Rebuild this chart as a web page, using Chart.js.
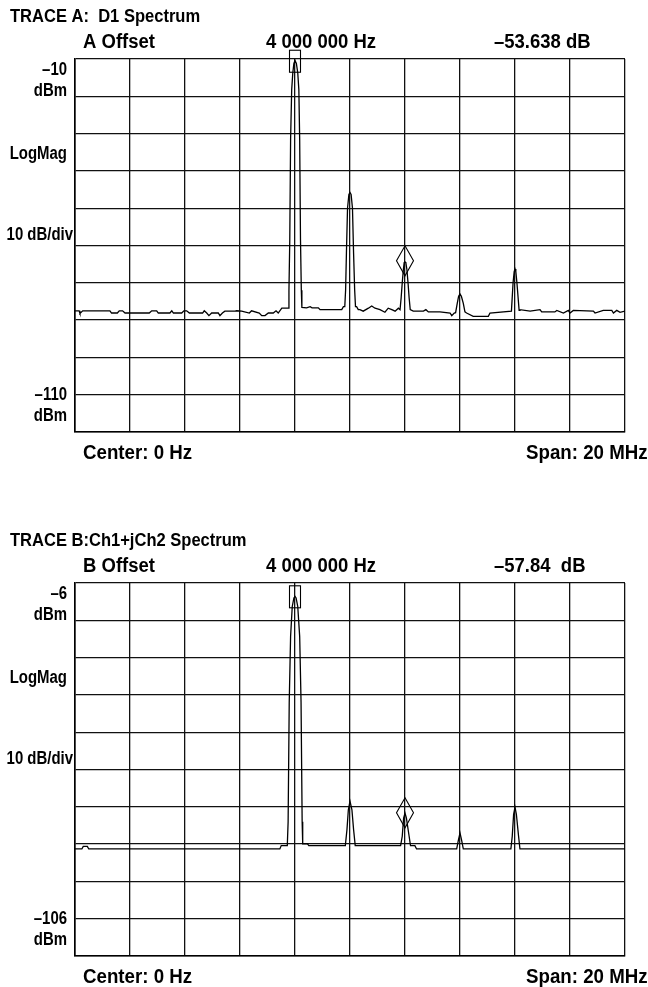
<!DOCTYPE html>
<html>
<head>
<meta charset="utf-8">
<script src="https://cdn.jsdelivr.net/npm/chart.js@4"></script>
<style>
  html, body { margin: 0; padding: 0; background: #fff; }
  .wrap { position: absolute; left: 0; width: 648px; height: 463px; }
  #wrapA { top: 0; }
  #wrapB { top: 524px; }
</style>
</head>
<body>
<div class="wrap" id="wrapA"><canvas id="chartA" width="648" height="463"></canvas></div>
<div class="wrap" id="wrapB"><canvas id="chartB" width="648" height="463"></canvas></div>
<script>
// ─── DATA ────────────────────────────────────────────────────────────────────
// frequency in MHz (center 0, span 20 MHz), level in dBm

const FREQ_A = [
  -10.00, -9.85, -9.82, -9.72, -8.73, -8.67, -8.46, -8.39, -8.27, -8.18,
  -7.30, -7.21, -7.03, -6.97, -6.55, -6.48, -6.42, -6.12, -6.04, -5.94,
  -5.84, -5.36, -5.30, -5.21, -5.13, -5.03, -4.79, -4.73, -4.64, -4.55,
  -4.18, -4.12, -3.94, -3.66, -3.58, -3.30, -3.21, -3.09, -2.97, -2.79,
  -2.69, -2.61, -2.48, -2.25,
  -2.22, -2.19, -2.16, -2.12, -2.08, -2.04, -2.00, -1.95, -1.90, -1.86,
  -1.83, -1.80, -1.77, -1.75,
  -1.58, -1.45, -1.38, -1.15, -1.09, -0.30, -0.24, -0.19,
  -0.16, -0.13, -0.09, -0.04, 0.00, 0.04, 0.09, 0.13, 0.17, 0.20,
  0.24, 0.30, 0.36, 0.48, 0.67, 0.79, 0.91, 1.09, 1.27, 1.39,
  1.52, 1.64, 1.76, 1.82,
  1.86, 1.90, 1.94, 1.97, 2.00, 2.03, 2.07, 2.11, 2.15, 2.19,
  2.30, 2.67, 2.76, 2.85, 3.27, 3.64, 3.70, 3.79, 3.84,
  3.90, 3.95, 4.00, 4.05, 4.12, 4.18,
  4.24, 4.48, 5.03, 5.09, 5.87,
  5.93, 5.97, 6.00, 6.03, 6.07, 6.15,
  6.18, 6.55, 6.91, 6.97, 7.45, 7.52, 7.76, 7.94, 8.00, 8.12,
  8.85, 8.91, 9.21, 9.52, 9.58, 9.70, 9.82, 10.00
];
const LEVEL_A = [
  -77.5, -77.5, -78.2, -77.5, -77.5, -78.1, -78.1, -77.5, -77.5, -78.1,
  -78.1, -77.5, -77.5, -78.1, -78.1, -77.5, -78.1, -78.1, -77.5, -77.5,
  -78.1, -78.1, -77.5, -78.1, -78.8, -78.1, -78.1, -78.8, -78.1, -77.6,
  -77.6, -77.5, -77.6, -78.1, -77.5, -78.1, -78.8, -78.8, -78.1, -78.1,
  -77.5, -78.1, -76.8, -76.8,
  -72.0, -58.5, -31.6, -18.2, -13.7, -11.2, -10.4, -11.2, -13.7, -18.2,
  -31.6, -58.5, -72.0, -76.6,
  -76.7, -76.4, -76.7, -76.7, -77.2, -77.2, -76.4, -76.4,
  -72.0, -62.0, -50.0, -46.3, -45.8, -46.3, -50.0, -62.0, -72.0, -76.4,
  -76.4, -77.2, -77.2, -77.6, -76.8, -76.2, -76.8, -77.2, -77.9, -76.8,
  -77.2, -77.6, -76.8, -77.2,
  -74.0, -70.0, -66.5, -64.6, -64.4, -64.6, -66.5, -70.0, -74.0, -77.2,
  -77.6, -77.6, -77.2, -77.8, -77.8, -78.1, -78.8, -78.1, -78.0,
  -75.5, -73.6, -73.0, -73.6, -75.5, -77.8,
  -78.1, -79.0, -79.0, -78.1, -77.6,
  -70.0, -67.0, -66.3, -67.0, -70.0, -77.4,
  -77.2, -77.6, -77.2, -77.8, -77.8, -77.4, -78.1, -77.4, -78.1, -77.4,
  -77.6, -78.1, -77.4, -77.4, -78.1, -77.4, -77.9, -77.6
];

const FREQ_B = [
  -10.00, -9.75, -9.70, -9.55, -9.50, -2.55, -2.50, -2.28,
  -2.25, -2.21, -2.16, -2.10, -2.04, -2.00, -1.96, -1.90, -1.83, -1.78,
  -1.74, -1.72, -1.55, -1.50, -0.17,
  -0.11, -0.06, 0.00, 0.07, 0.13, 0.19, 1.84,
  1.90, 1.95, 2.00, 2.05, 2.15, 2.20, 2.36, 2.42, 3.88,
  3.94, 4.00, 4.06, 4.12, 5.85,
  5.90, 5.95, 6.00, 6.05, 6.13, 6.18, 10.00
];
const LEVEL_B = [
  -77.3, -77.3, -76.6, -76.6, -77.3, -77.3, -76.4, -76.4,
  -70.0, -38.0, -20.3, -12.3, -10.0, -9.6, -10.0, -12.3, -20.3, -38.0,
  -70.0, -75.9, -75.9, -76.4, -76.4,
  -72.1, -66.8, -64.5, -66.8, -72.1, -76.4, -76.4,
  -73.9, -69.0, -67.7, -69.0, -73.9, -76.4, -76.4, -77.3, -77.3,
  -75.0, -73.0, -75.0, -77.3, -77.3,
  -73.9, -68.0, -66.1, -68.0, -73.9, -77.3, -77.3
];

// markers: box = reference, diamond = offset marker
const MARKER_FREQ_A  = [-2, 2];
const MARKER_LEVEL_A = [-10.6, -64.1];
const MARKER_FREQ_B  = [-2, 2];
const MARKER_LEVEL_B = [-9.7, -67.6];

const Y_RANGE_A = [-110, -10];
const Y_RANGE_B = [-106, -6];

const TITLE_A  = 'TRACE A:  D1 Spectrum';
const TITLE_B  = 'TRACE B:Ch1+jCh2 Spectrum';
const HEADER_A = ['A Offset', '4 000 000 Hz', '\u201353.638 dB'];
const HEADER_B = ['B Offset', '4 000 000 Hz', '\u201357.84  dB'];
const SIDE_A   = ['\u201310', 'dBm', 'LogMag', '10 dB/div', '\u2013110', 'dBm'];
const SIDE_B   = ['\u20136', 'dBm', 'LogMag', '10 dB/div', '\u2013106', 'dBm'];
const FOOTER   = ['Center: 0 Hz', 'Span: 20 MHz'];

// ─── TEXT HELPERS ────────────────────────────────────────────────────────────
const FONT = '"Liberation Sans", Arial, sans-serif';

// condensed bold text (squeezed horizontally)
function drawText(ctx, text, x, y, size, squeeze, align) {
    ctx.save();
    ctx.font = 'bold ' + size + 'px ' + FONT;
    ctx.textBaseline = 'middle';
    ctx.textAlign = align || 'left';
    ctx.fillStyle = '#000';
    ctx.translate(x, y);
    ctx.scale(squeeze, 1);
    ctx.fillText(text, 0, 0);
    ctx.restore();
}

const annotations = {
    id: 'annotations',
    afterDraw(chart, args, opts) {
        const ctx = chart.ctx;
        const a   = chart.chartArea;

        // title + header row
        drawText(ctx, opts.title, 10, a.top - 42, 19, 0.87);
        drawText(ctx, opts.header[0], 83,  a.top - 17, 20, 0.925);
        drawText(ctx, opts.header[1], 266, a.top - 17, 20, 0.925);
        drawText(ctx, opts.header[2], 494, a.top - 17, 20, 0.925);

        // left side labels
        const s = opts.side;
        drawText(ctx, s[0], 67, a.top + 11, 18, 0.83, 'right');
        drawText(ctx, s[1], 67, a.top + 32, 18, 0.83, 'right');
        drawText(ctx, s[2], 67, a.top + 95, 18, 0.83, 'right');
        drawText(ctx, s[3], 73, a.top + 176, 18, 0.83, 'right');
        drawText(ctx, s[4], 67, a.bottom - 37, 18, 0.83, 'right');
        drawText(ctx, s[5], 67, a.bottom - 16, 18, 0.83, 'right');

        // footer
        drawText(ctx, FOOTER[0], 83,  a.bottom + 21, 20, 0.935);
        drawText(ctx, FOOTER[1], 526, a.bottom + 21, 20, 0.935);

        // markers
        const xs = chart.scales.x, ys = chart.scales.y;
        ctx.save();
        ctx.strokeStyle = '#000';
        ctx.lineWidth = 1.1;
        const bx = xs.getPixelForValue(opts.markerFreq[0]);
        const by = ys.getPixelForValue(opts.markerLevel[0]);
        ctx.strokeRect(bx - 5.5, by - 11, 11, 22);

        const dx = xs.getPixelForValue(opts.markerFreq[1]);
        const dy = ys.getPixelForValue(opts.markerLevel[1]);
        ctx.beginPath();
        ctx.moveTo(dx, dy - 15);
        ctx.lineTo(dx + 8.5, dy);
        ctx.lineTo(dx, dy + 15);
        ctx.lineTo(dx - 8.5, dy);
        ctx.closePath();
        ctx.stroke();
        ctx.restore();
    }
};

// ─── BUILD CHART ─────────────────────────────────────────────────────────────
function makeTrace(canvasId, freq, level, yRange, texts) {
    const points = freq.map((f, i) => ({ x: f, y: level[i] }));

    return new Chart(document.getElementById(canvasId), {
        type: 'line',
        data: {
            datasets: [{
                data: points,
                borderColor: '#000',
                borderWidth: 1.3,
                pointRadius: 0,
                tension: 0,
                fill: false
            }]
        },
        options: {
            responsive: false,
            animation: false,
            devicePixelRatio: 1,
            layout: { padding: { left: 75, right: 23, top: 59, bottom: 31 } },
            plugins: {
                legend:  { display: false },
                tooltip: { enabled: false },
                annotations: texts
            },
            scales: {
                x: {
                    type: 'linear',
                    min: -10, max: 10,
                    ticks: { display: false, stepSize: 2 },
                    grid:  { color: '#111', lineWidth: 1.3, drawTicks: false },
                    border: { color: '#000', width: 1.6 }
                },
                y: {
                    type: 'linear',
                    min: yRange[0], max: yRange[1],
                    ticks: { display: false, stepSize: 10 },
                    grid:  { color: '#111', lineWidth: 1.3, drawTicks: false },
                    border: { color: '#000', width: 1.6 }
                }
            }
        },
        plugins: [annotations]
    });
}

makeTrace('chartA', FREQ_A, LEVEL_A, Y_RANGE_A, {
    title: TITLE_A, header: HEADER_A, side: SIDE_A,
    markerFreq: MARKER_FREQ_A, markerLevel: MARKER_LEVEL_A
});

makeTrace('chartB', FREQ_B, LEVEL_B, Y_RANGE_B, {
    title: TITLE_B, header: HEADER_B, side: SIDE_B,
    markerFreq: MARKER_FREQ_B, markerLevel: MARKER_LEVEL_B
});
</script>
</body>
</html>
